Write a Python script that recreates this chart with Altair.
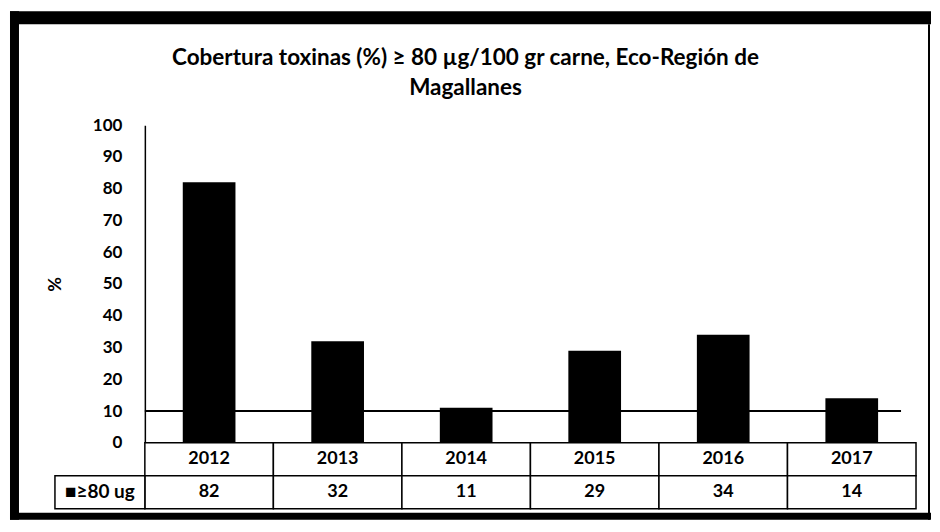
import altair as alt
import pandas as pd

years = ["2012", "2013", "2014", "2015", "2016", "2017"]
values = [82, 32, 11, 29, 34, 14]
threshold = [10]
y_ticks = [0, 10, 20, 30, 40, 50, 60, 70, 80, 90, 100]
series_label = "≥80 ug"
title_lines = ["Cobertura toxinas (%) ≥ 80 µg/100 gr carne, Eco-Región de", "Magallanes"]

FONT = "Lato"
W, H, TH = 772, 318, 66

df = pd.DataFrame({"year": years, "value": values})
xscale = alt.Scale(domain=years, paddingInner=0.59, paddingOuter=0.295)
yscale = alt.Scale(domain=[0, 100])
yaxis = alt.Axis(values=y_ticks, ticks=False, grid=False, labelPadding=23,
                 labelOverlap=False, labelBound=False,
                 domainColor="black", domainWidth=1.5, title="%",
                 labelFontSize=17, labelFont=FONT, labelColor="black",
                 labelFontWeight="bold",
                 titleFontSize=18, titleFont=FONT, titleColor="black",
                 titleFontWeight="bold", titleX=-80, titleY=H / 2)

bars = alt.Chart(df).mark_bar(color="black").encode(
    x=alt.X("year:N", scale=xscale, axis=None),
    y=alt.Y("value:Q", scale=yscale, axis=yaxis),
)

rule = alt.Chart(pd.DataFrame({"value": threshold})).mark_rule(color="black", strokeWidth=2).encode(
    y=alt.Y("value:Q", scale=yscale, axis=yaxis), x=alt.value(0), x2=alt.value(757)
)

dummy = pd.DataFrame({"k": [0]})
def frame_piece(x, x2, y, y2):
    return alt.Chart(dummy).mark_rect(color="black").encode(
        x=alt.value(x), x2=alt.value(x2), y=alt.value(y), y2=alt.value(y2))

frame = [
    frame_piece(-135, 787, -114, -101),
    frame_piece(-135, -126, -114, 395),
    frame_piece(-135, 787, 388, 395),
    frame_piece(784, 786, -101, 395),
]

title = alt.Chart(dummy).mark_text(font=FONT, fontSize=22.5, fontWeight="bold", color="black",
                                   lineHeight=30, baseline="top", align="center").encode(
    x=alt.value(321), y=alt.value(-78), text=alt.value(title_lines))

top = alt.layer(*frame, bars, rule, title).properties(width=W, height=H)

rows = ["year", "value"]
tdf = pd.DataFrame({
    "year": years + years,
    "row": ["year"] * len(years) + ["value"] * len(years),
    "label": years + [str(v) for v in values],
})
tx = alt.X("year:N", scale=alt.Scale(domain=years, paddingInner=0, paddingOuter=0), axis=None)
ty = alt.Y("row:N", scale=alt.Scale(domain=rows, paddingInner=0, paddingOuter=0), axis=None)

cells = alt.Chart(tdf).mark_rect(fill="white", stroke="black", strokeWidth=1.5).encode(x=tx, y=ty)
ctext = alt.Chart(tdf).mark_text(font=FONT, fontSize=18, color="black", fontWeight="bold").encode(
    x=tx, y=ty, text="label:N")

ldf = pd.DataFrame({"row": ["value"], "label": ["■" + series_label]})
lcell = alt.Chart(ldf).mark_rect(fill="white", stroke="black", strokeWidth=1.5).encode(
    x=alt.value(-90), x2=alt.value(0), y=ty)
ltext = alt.Chart(ldf).mark_text(font=FONT, fontSize=19, color="black", align="center",
                                 fontWeight="bold").encode(
    x=alt.value(-45), y=ty, text="label:N")

table = alt.layer(cells, ctext, lcell, ltext).properties(width=W, height=TH)

chart = alt.vconcat(top, table, spacing=0, bounds="flush").properties(
    padding={"left": 2, "top": 3, "right": 1, "bottom": 4},
    background="white",
).configure_view(stroke=None)

chart.save("out.html", embed_options={"renderer": "svg", "actions": False})
